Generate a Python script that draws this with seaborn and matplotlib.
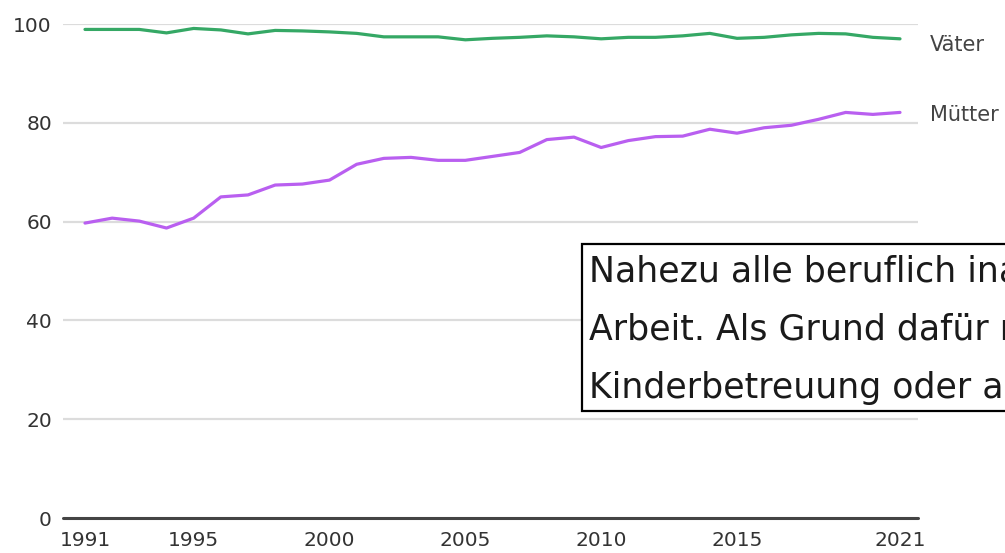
import matplotlib
matplotlib.use("Agg")
import matplotlib.pyplot as plt
from matplotlib.patches import Rectangle
import seaborn as sns
import pandas as pd

years = list(range(1991, 2022))
vaeter = [98.9, 98.9, 98.9, 98.2, 99.1, 98.8, 98.0, 98.7, 98.6, 98.4,
          98.1, 97.4, 97.4, 97.4, 96.8, 97.1, 97.3, 97.6, 97.4, 97.0,
          97.3, 97.3, 97.6, 98.1, 97.1, 97.3, 97.8, 98.1, 98.0, 97.3, 97.0]
muetter = [59.7, 60.7, 60.1, 58.7, 60.7, 65.0, 65.4, 67.4, 67.6, 68.4,
           71.6, 72.8, 73.0, 72.4, 72.4, 73.2, 74.0, 76.6, 77.1, 75.0,
           76.4, 77.2, 77.3, 78.7, 77.9, 79.0, 79.5, 80.7, 82.1, 81.7, 82.1]
series_names = ["Väter", "Mütter"]
x_ticks = [1991, 1995, 2000, 2005, 2010, 2015, 2021]
y_ticks = [0, 20, 40, 60, 80, 100]
note_lines = [
    "Nahezu alle beruflich inaktiven Väter wünschen sich",
    "Arbeit. Als Grund dafür nennen Mütter vor allem",
    "Kinderbetreuung oder andere familiäre Pflichten.",
]

df = pd.DataFrame({
    "Jahr": years * 2,
    "Wert": vaeter + muetter,
    "Gruppe": [series_names[0]] * len(years) + [series_names[1]] * len(years),
})
palette = {"Väter": "#35a865", "Mütter": "#b95ff0"}

sns.set_theme(style="white")
plt.rcParams["font.family"] = ["DejaVu Sans"]

W, H = 1005, 553
fig = plt.figure(figsize=(W / 100, H / 100), dpi=100)
ax = fig.add_axes([63 / W, 1 - 518 / H, (918 - 63) / W, (518 - 24) / H])

for y in y_ticks[1:]:
    ax.axhline(y, color="#dcdcdc", lw=1.6, zorder=0)

sns.lineplot(data=df, x="Jahr", y="Wert", hue="Gruppe", palette=palette,
             linewidth=2.3, legend=False, ax=ax)

ax.axhline(0, color="#444444", lw=2.2, zorder=3, clip_on=False)

ax.set_xlim(1991 - 22 / 27.17, 2021 + 18 / 27.17)
ax.set_ylim(0, 100)
ax.set_xticks(x_ticks)
ax.set_yticks(y_ticks)
ax.set_xlabel("")
ax.set_ylabel("")
for s in ax.spines.values():
    s.set_visible(False)
ax.tick_params(axis="both", length=0, labelsize=14.5, colors="#333333")
ax.tick_params(axis="y", pad=8)
ax.tick_params(axis="x", pad=9)

for name, vals, dy in [("Väter", vaeter, -6), ("Mütter", muetter, -3)]:
    ax.annotate(name, xy=(years[-1], vals[-1]), xytext=(30, dy),
                textcoords="offset pixels", ha="left", va="center",
                fontsize=15, color="#444444", annotation_clip=False)

# note box
fig.patches.append(Rectangle((582 / W, 1 - 411 / H), 440 / W, 167 / H,
                             transform=fig.transFigure, fill=True,
                             facecolor="white", edgecolor="black", lw=1.6,
                             zorder=5))
for i, line in enumerate(note_lines):
    fig.text(589 / W, 1 - (282 + 58 * i) / H, line, fontsize=25,
             family=["DejaVu Sans"], color="#1a1a1a",
             ha="left", va="baseline", zorder=6)

fig.savefig("out.png", dpi=100)
